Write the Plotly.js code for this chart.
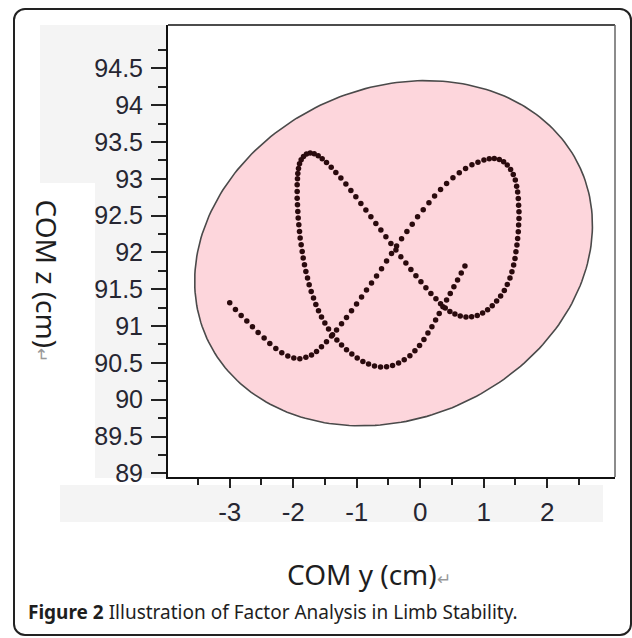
<!DOCTYPE html>
<html><head><meta charset="utf-8">
<script src="https://cdn.plot.ly/plotly-3.0.1.min.js"></script>
<style>
html,body{margin:0;padding:0;background:#fff;width:632px;height:638px;overflow:hidden;}
#frame{position:absolute;left:13px;top:8px;width:619px;height:628px;border:2px solid #222;border-radius:12px;box-sizing:border-box;}
.gray{position:absolute;background:#f4f4f4;}
#chart{position:absolute;left:0;top:0;width:632px;height:638px;}
</style></head><body>
<div id="frame"></div>
<div class="gray" style="left:40px;top:25px;width:128px;height:158px"></div>
<div class="gray" style="left:95px;top:183px;width:73px;height:295px"></div>
<div class="gray" style="left:60px;top:485px;width:543px;height:37px"></div>
<div id="chart"></div>
<script>
// COM trajectory (y = mediolateral, z = vertical), cm
const comY = [-3.000,-2.910,-2.820,-2.731,-2.642,-2.553,-2.458,-2.369,-2.274,-2.180,-2.085,-1.991,-1.896,-1.801,-1.712,-1.633,-1.555,-1.476,-1.397,-1.318,
-1.239,-1.161,-1.082,-1.003,-0.924,-0.846,-0.767,-0.688,-0.609,-0.530,-0.452,-0.373,-0.294,-0.210,-0.126,-0.042,0.047,0.137,0.226,0.320,
0.415,0.515,0.615,0.714,0.814,0.909,1.003,1.087,1.166,1.245,1.313,1.371,1.423,1.465,1.497,1.518,1.534,1.544,1.549,1.555,
1.555,1.549,1.544,1.534,1.523,1.507,1.492,1.471,1.444,1.413,1.371,1.324,1.266,1.203,1.134,1.061,0.982,0.898,0.809,0.720,
0.630,0.546,0.467,0.394,0.320,0.247,0.168,0.089,0.011,-0.068,-0.147,-0.226,-0.305,-0.383,-0.462,-0.541,-0.620,-0.699,-0.777,-0.856,
-0.935,-1.014,-1.092,-1.171,-1.250,-1.329,-1.402,-1.476,-1.544,-1.607,-1.670,-1.733,-1.791,-1.838,-1.875,-1.901,-1.917,-1.928,-1.933,-1.938,
-1.938,-1.938,-1.933,-1.928,-1.922,-1.912,-1.901,-1.891,-1.875,-1.859,-1.843,-1.823,-1.801,-1.775,-1.749,-1.717,-1.681,-1.644,-1.602,-1.555,
-1.502,-1.444,-1.381,-1.313,-1.239,-1.161,-1.077,-0.993,-0.903,-0.814,-0.720,-0.625,-0.530,-0.436,-0.341,-0.252,-0.163,-0.084,-0.011,0.058,
0.121,0.184,0.242,0.299,0.357,0.415,0.473,0.530,0.588,0.646,0.704];
const comZ = [91.317,91.227,91.145,91.068,90.991,90.914,90.837,90.765,90.697,90.638,90.593,90.565,90.556,90.575,90.606,90.656,90.720,90.787,90.864,90.946,
91.032,91.118,91.208,91.299,91.394,91.489,91.584,91.679,91.779,91.883,91.987,92.087,92.186,92.286,92.385,92.485,92.580,92.675,92.766,92.856,
92.938,93.015,93.083,93.141,93.191,93.227,93.255,93.273,93.277,93.264,93.232,93.187,93.128,93.060,92.983,92.901,92.820,92.734,92.643,92.553,
92.462,92.372,92.281,92.191,92.100,92.010,91.919,91.829,91.738,91.652,91.566,91.485,91.408,91.340,91.276,91.222,91.177,91.145,91.127,91.122,
91.136,91.163,91.199,91.245,91.303,91.371,91.444,91.521,91.602,91.684,91.770,91.856,91.942,92.032,92.123,92.213,92.304,92.394,92.485,92.576,
92.666,92.757,92.843,92.929,93.010,93.087,93.159,93.223,93.273,93.313,93.341,93.350,93.336,93.304,93.259,93.205,93.141,93.073,93.001,92.920,
92.829,92.738,92.648,92.557,92.467,92.376,92.286,92.195,92.105,92.014,91.924,91.833,91.743,91.652,91.561,91.471,91.380,91.294,91.208,91.122,
91.041,90.959,90.882,90.810,90.742,90.679,90.620,90.565,90.520,90.484,90.457,90.443,90.448,90.466,90.498,90.543,90.597,90.665,90.738,90.819,
90.905,90.991,91.082,91.172,91.263,91.353,91.444,91.534,91.625,91.720,91.815];

// stability ellipse: centre and two conjugate semi-diameters (data units)
const ellipseCenter = [-0.42, 91.99];
const ellipseU = [2.940, 1.156];
const ellipseV = [-1.079, 2.040];

const xTickVals = [-3,-2,-1,0,1,2];
const xMinorVals = [-3.5,-2.5,-1.5,-0.5,0.5,1.5,2.5];
const yTickVals = [89,89.5,90,90.5,91,91.5,92,92.5,93,93.5,94,94.5];
const yMinorVals = [89.25,89.75,90.25,90.75,91.25,91.75,92.25,92.75,93.25,93.75,94.25,94.75];
const xRange = [-3.972, 3.067];
const yRange = [88.95, 95.09];

const ex = [], ez = [];
for (let i = 0; i <= 240; i++) {
  const t = 2*Math.PI*i/240;
  ex.push(ellipseCenter[0] + ellipseU[0]*Math.cos(t) + ellipseV[0]*Math.sin(t));
  ez.push(ellipseCenter[1] + ellipseU[1]*Math.cos(t) + ellipseV[1]*Math.sin(t));
}

const tickFont = {family:'"Liberation Sans", Arial, sans-serif', size:25, color:'#262632'};

const data = [
  {x:ex, y:ez, type:'scatter', mode:'lines', fill:'toself', fillcolor:'#fdd6dc',
   line:{color:'#4a4a4a', width:1.6}, hoverinfo:'skip'},
  {x:comY, y:comZ, type:'scatter', mode:'markers',
   marker:{size:5.5, color:'#2a0a0d', line:{width:0}}}
];

const layout = {
  width:632, height:638,
  margin:{l:168, r:17, t:25, b:161, pad:0},
  paper_bgcolor:'rgba(0,0,0,0)', plot_bgcolor:'#ffffff',
  showlegend:false,
  xaxis:{range:xRange, tickmode:'array', tickvals:xTickVals, ticktext:xTickVals.map(String),
    ticks:'outside', ticklen:9, tickwidth:2, tickcolor:'#222',
    showline:true, linecolor:'#111', linewidth:2, showgrid:false, zeroline:false,
    tickfont:Object.assign({}, tickFont, {size:26}), ticklabelstandoff:2,
    minor:{tickmode:'array', tickvals:xMinorVals, ticks:'outside', ticklen:6, tickwidth:2, tickcolor:'#222', showgrid:false}},
  yaxis:{range:yRange, tickmode:'array', tickvals:yTickVals, ticktext:yTickVals.map(String),
    ticks:'outside', ticklen:15, tickwidth:2, tickcolor:'#222',
    showline:true, linecolor:'#111', linewidth:2, showgrid:false, zeroline:false,
    tickfont:tickFont, ticklabelstandoff:3,
    minor:{tickmode:'array', tickvals:yMinorVals, ticks:'outside', ticklen:8, tickwidth:2, tickcolor:'#222', showgrid:false}},
  shapes:[
    {type:'line', xref:'paper', yref:'paper', x0:0, x1:1, y0:1, y1:1, line:{color:'#111', width:1.5}},
    {type:'line', xref:'paper', yref:'paper', x0:1, x1:1, y0:0, y1:1, line:{color:'#666', width:1.5}}
  ],
  annotations:[
    {xref:'paper', yref:'paper', x:0.262, y:-0.2146, xanchor:'left', yanchor:'middle', showarrow:false,
     text:'COM y (cm)<span style="color:#999;font-size:17px">↵</span>',
     font:{family:'"Noto Sans", "Open Sans", sans-serif', size:28, color:'#1e1e1e'}},
    {xref:'paper', yref:'paper', x:-0.2707, y:0.4325, xanchor:'center', yanchor:'middle', showarrow:false, textangle:90,
     text:'COM z (cm)<span style="color:#999;font-size:17px">↵</span>',
     font:{family:'"Noto Sans", "Open Sans", sans-serif', size:28, color:'#1e1e1e'}},
    {xref:'paper', yref:'paper', x:-0.3177, y:-0.2987, xanchor:'left', yanchor:'middle', showarrow:false,
     text:'<b>Figure 2</b> Illustration of Factor Analysis in Limb Stability.',
     font:{family:'"Noto Sans", "Open Sans", sans-serif', size:19, color:'#1e1e1e'}}
  ]
};

Plotly.newPlot('chart', data, layout, {staticPlot:true, displayModeBar:false});
</script>
</body></html>
